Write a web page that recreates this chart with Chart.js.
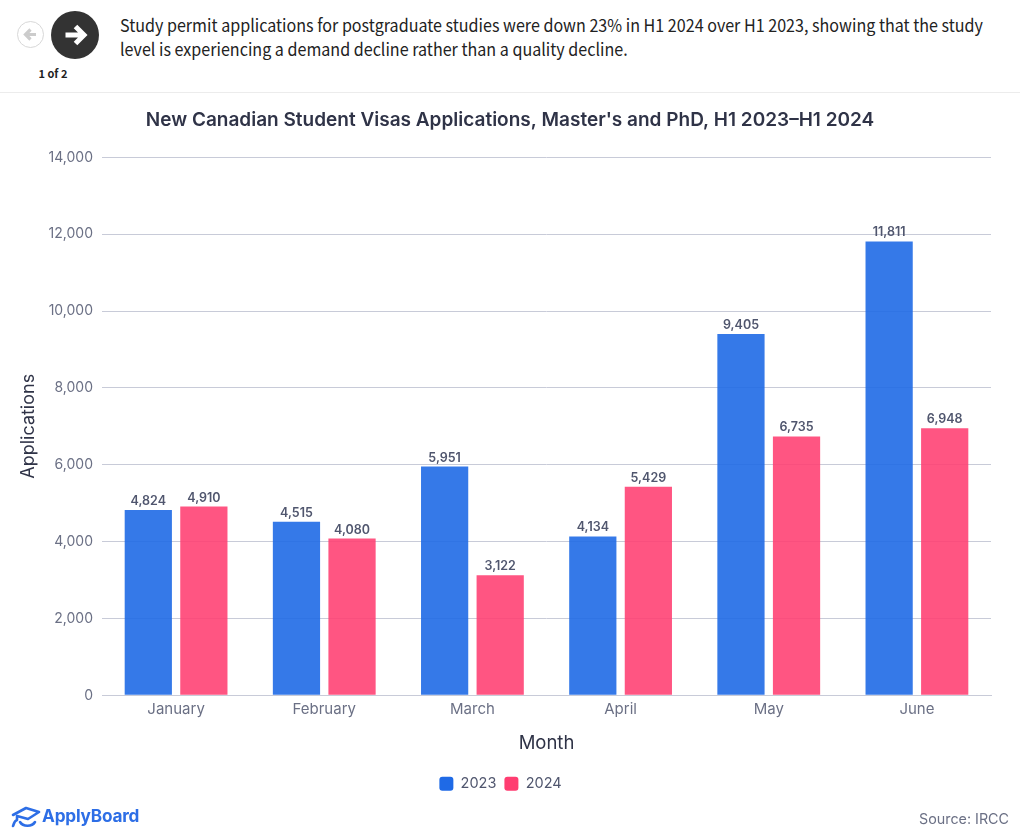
<!DOCTYPE html>
<html><head><meta charset="utf-8">
<script src="https://cdn.jsdelivr.net/npm/chart.js@4"></script>
<style>
html,body{margin:0;padding:0;background:#fff;width:1020px;height:840px;overflow:hidden}
#wrap{position:absolute;left:0;top:93px;width:1020px;height:747px}
#head{position:absolute;left:0;top:0;width:1020px;height:92px;border-bottom:1px solid #ececec;font-family:"Noto Sans CJK SC","Noto Sans",sans-serif}
#q{position:absolute;left:120px;top:13px;width:965px;font-size:17.6px;line-height:24px;color:#222;transform:scaleX(.915);transform-origin:left top}
#prev{position:absolute;left:17px;top:21px;width:27px;height:27px;border:1px solid #d8d8d8;border-radius:50%;box-sizing:border-box}
#next{position:absolute;left:51px;top:11px;width:48px;height:48px;border-radius:50%;background:#333}
#count{position:absolute;left:33px;top:65px;width:40px;text-align:center;font-size:11px;font-weight:700;line-height:16px;color:#222}
#src{position:absolute;right:11px;top:810px;font:14.3px Inter,sans-serif;color:#6b7085}
#logo{position:absolute;left:11px;top:804px;width:132px;height:26px}
#logotxt{position:absolute;left:42px;top:804px;font:700 17.2px/24px Inter,sans-serif;color:#2d6ee6;letter-spacing:-.2px}
</style></head><body>
<div id="head">
<div id="prev"><svg width="25" height="25" viewBox="0 0 25 25"><path d="M18 12.5H8M12.5 7.5l-5 5 5 5" fill="none" stroke="#ccc" stroke-width="3.2"/></svg></div>
<div id="next"><svg width="48" height="48" viewBox="0 0 48 48"><path d="M14.5 24H31M24.5 15.5l8.5 8.5-8.5 8.5" fill="none" stroke="#fff" stroke-width="5"/></svg></div>
<div id="count">1 of 2</div>
<div id="q">Study permit applications for postgraduate studies were down 23% in H1 2024 over H1 2023, showing that the study level is experiencing a demand decline rather than a quality decline.</div>
</div>
<div id="wrap"><canvas id="c" width="1020" height="747"></canvas></div>
<svg id="logo" viewBox="0 0 132 26"><path d="M2 11L15 4l13 4-11 7-11-3M6 13v3c-3 1-3 4-4 6M9 18c3 5 12 5 15 0" fill="none" stroke="#2d6ee6" stroke-width="2.6" stroke-linejoin="round" stroke-linecap="round"/></svg>
<div id="logotxt">ApplyBoard</div>
<div id="src">Source: IRCC</div>
<script>
const categories=["January","February","March","April","May","June"];
const values2023=[4824,4515,5951,4134,9405,11811];
const values2024=[4910,4080,3122,5429,6735,6948];
const seriesNames=["2023","2024"];
const titleText="New Canadian Student Visas Applications, Master's and PhD, H1 2023–H1 2024";
const FONT="Inter, sans-serif";
const valueLabels={id:'valueLabels',
 afterLayout(ch){
  ch.titleBlock.left+=14.5;ch.titleBlock.right+=14.5;
  ch.legend.left+=5;ch.legend.right+=5;
 },
 afterDatasetsDraw(ch){
  const ctx=ch.ctx;ctx.save();
  ctx.font="600 12.5px "+FONT;ctx.fillStyle="#50566e";ctx.textAlign="center";ctx.textBaseline="bottom";
  ch.data.datasets.forEach((d,i)=>ch.getDatasetMeta(i).data.forEach((b,j)=>{
    ctx.fillText(d.data[j].toLocaleString('en-US'),b.x,b.y-2.5);
  }));
  ctx.restore();
}};
new Chart(document.getElementById('c'),{
 type:'bar',
 data:{labels:categories,datasets:[
  {label:seriesNames[0],data:values2023,backgroundColor:'rgba(31,106,230,.9)',borderWidth:0,categoryPercentage:.75,barPercentage:.85},
  {label:seriesNames[1],data:values2024,backgroundColor:'rgba(255,61,113,.88)',borderWidth:0,categoryPercentage:.75,barPercentage:.85}
 ]},
 plugins:[valueLabels],
 options:{
  responsive:false,animation:false,
  layout:{padding:{left:0,right:29,top:0,bottom:39}},
  plugins:{
   title:{display:true,text:titleText,color:'#2f3347',font:{family:FONT,size:19,weight:'600'},padding:{top:16,bottom:25.5}},
   tooltip:{enabled:false},
   legend:{position:'bottom',labels:{useBorderRadius:true,borderRadius:3,boxWidth:14,boxHeight:14,padding:8,color:'#50566e',font:{family:FONT,size:14.5},
     generateLabels(ch){return ch.data.datasets.map((d,i)=>({text:d.label,fillStyle:i?'#ff3d71':'#1f6ae6',strokeStyle:i?'#ff3d71':'#1f6ae6',lineWidth:0,borderRadius:3,datasetIndex:i,fontColor:'#50566e'}))}}}
  },
  scales:{
   x:{grid:{display:false,drawTicks:false},border:{color:'#c8cbd8'},
      ticks:{color:'#6b7085',font:{family:FONT,size:15},padding:5,maxRotation:0},
      title:{display:true,text:'Month',color:'#2f3347',font:{family:FONT,size:18.5,weight:'400'},padding:{top:9,bottom:14}}},
   y:{min:0,max:14000,grid:{color:'#c8cbd8',drawTicks:false},border:{display:false},
      afterFit(s){s.width=102},
      ticks:{stepSize:2000,color:'#6b7085',font:{family:FONT,size:14},padding:9,callback:v=>v.toLocaleString('en-US')},
      title:{display:true,text:'Applications',color:'#2f3347',font:{family:FONT,size:18,weight:'400'},padding:{top:18,bottom:8}}}
  }
 }
});
</script>
</body></html>
